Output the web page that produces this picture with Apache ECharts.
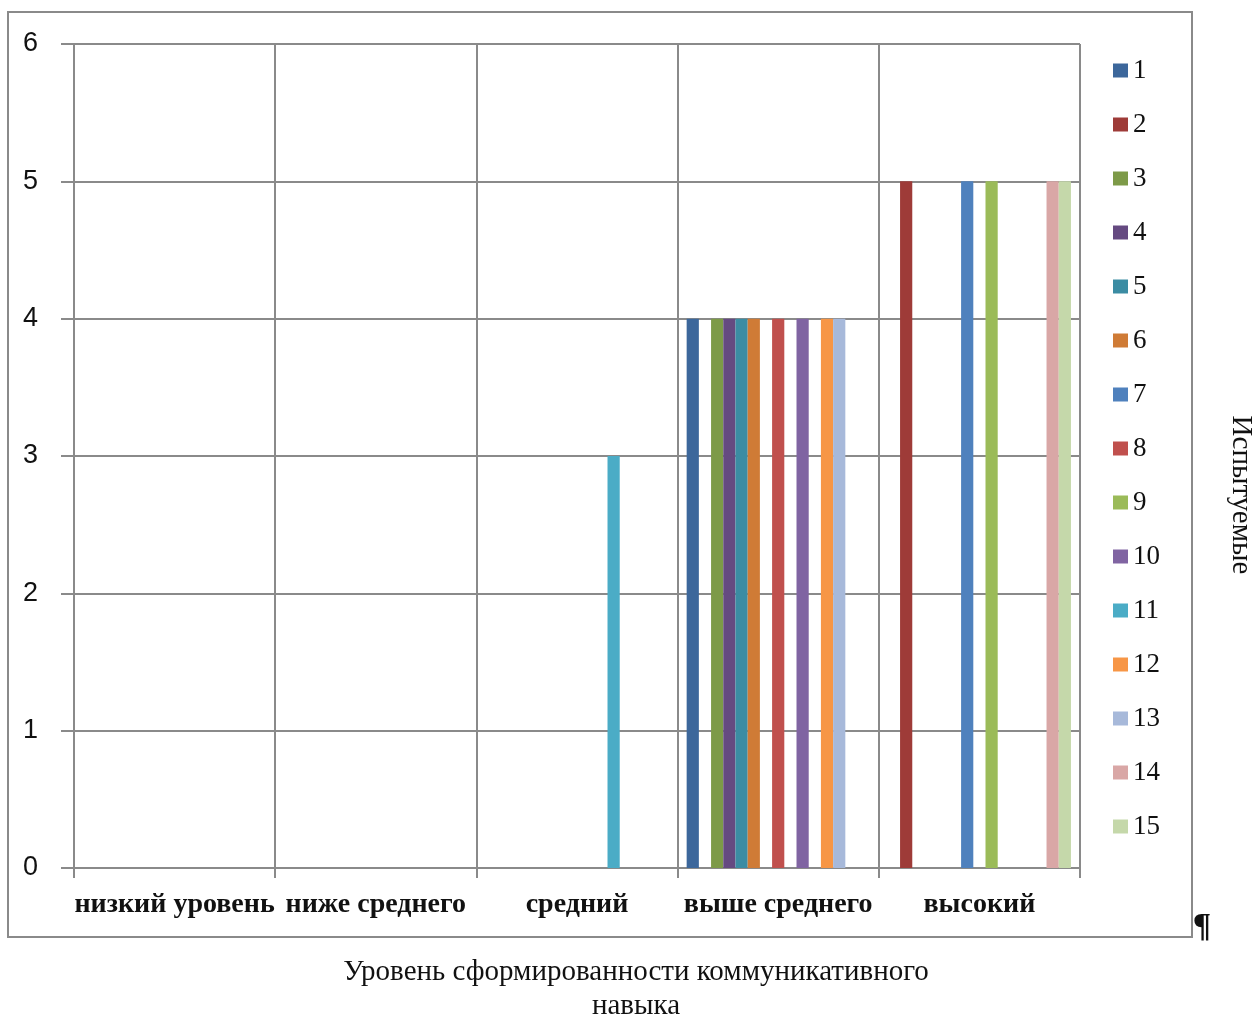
<!DOCTYPE html>
<html>
<head>
<meta charset="utf-8">
<script src="https://cdn.jsdelivr.net/npm/echarts@6/dist/echarts.min.js"></script>
<style>
html,body{margin:0;padding:0;background:#fff;}
#chart{width:1257px;height:1017px;}
</style>
</head>
<body>
<div id="chart"></div>
<script>
const categories = ['низкий уровень', 'ниже среднего', 'средний', 'выше среднего', 'высокий'];
const subjectNames = ['1','2','3','4','5','6','7','8','9','10','11','12','13','14','15'];
const s1  = [0, 0, 0, 4, 0];
const s2  = [0, 0, 0, 0, 5];
const s3  = [0, 0, 0, 4, 0];
const s4  = [0, 0, 0, 4, 0];
const s5  = [0, 0, 0, 4, 0];
const s6  = [0, 0, 0, 4, 0];
const s7  = [0, 0, 0, 0, 5];
const s8  = [0, 0, 0, 4, 0];
const s9  = [0, 0, 0, 0, 5];
const s10 = [0, 0, 0, 4, 0];
const s11 = [0, 0, 3, 0, 0];
const s12 = [0, 0, 0, 4, 0];
const s13 = [0, 0, 0, 4, 0];
const s14 = [0, 0, 0, 0, 5];
const s15 = [0, 0, 0, 0, 5];
const yTicks = { min: 0, max: 6, interval: 1 };
const xTitle = 'Уровень сформированности коммуникативного\nнавыка';
const legendTitle = 'Испытуемые';

const seriesValues = [s1,s2,s3,s4,s5,s6,s7,s8,s9,s10,s11,s12,s13,s14,s15];
const colors = ['#3C679B','#9E3B38','#7D9A48','#654A81','#3B8CA3','#CF7B36','#4F81BD','#C0504D',
                '#9BBB59','#8064A2','#4BACC6','#F79646','#A7B9DA','#D9A7A6','#C5D8AA'];

const chart = echarts.init(document.getElementById('chart'));
const lineColor = '#8a8a8a';
chart.setOption({
  backgroundColor: '#fff',
  animation: false,
  color: colors,
  grid: { left: 74, right: 177, top: 44, bottom: 149, containLabel: false },
  legend: {
    orient: 'vertical',
    left: 1108, top: 52,
    itemWidth: 15, itemHeight: 14,
    itemGap: 27,
    icon: 'rect',
    data: subjectNames,
    textStyle: { fontFamily: 'Liberation Serif', fontSize: 27, lineHeight: 27, color: '#111', padding: 0 }
  },
  xAxis: {
    type: 'category',
    data: categories,
    boundaryGap: true,
    axisLine: { show: true, lineStyle: { color: lineColor, width: 2 } },
    axisTick: { show: true, length: 10, lineStyle: { color: lineColor, width: 2 } },
    splitLine: { show: true, lineStyle: { color: lineColor, width: 2 } },
    axisLabel: { interval: 0, margin: 23, color: '#111', fontFamily: 'Liberation Serif', fontWeight: 'bold', fontSize: 28 }
  },
  yAxis: {
    type: 'value',
    min: yTicks.min, max: yTicks.max, interval: yTicks.interval,
    axisLine: { show: true, lineStyle: { color: lineColor, width: 2 } },
    axisTick: { show: true, length: 13, lineStyle: { color: lineColor, width: 2 } },
    splitLine: { show: true, lineStyle: { color: lineColor, width: 2 } },
    axisLabel: { margin: 36, color: '#111', fontFamily: 'Liberation Sans', fontSize: 27, padding: [7,0,0,0] }
  },
  series: seriesValues.map((vals, i) => ({
    name: subjectNames[i],
    type: 'bar',
    data: vals,
    barGap: '0%',
    barCategoryGap: '9%'
  })),
  graphic: [
    { type: 'rect', silent: true, z: -1,
      shape: { x: 8, y: 12, width: 1184, height: 925 },
      style: { fill: 'none', stroke: '#8a8a8a', lineWidth: 2 } },
    { type: 'text', x: 636, y: 955,
      style: { text: xTitle, fontFamily: 'Liberation Serif', fontSize: 29, lineHeight: 34,
               fill: '#111', textAlign: 'center', textVerticalAlign: 'top' } },
    { type: 'text', x: 1241, y: 495, rotation: -Math.PI / 2,
      style: { text: legendTitle, fontFamily: 'Liberation Serif', fontSize: 29,
               fill: '#111', textAlign: 'center', textVerticalAlign: 'middle' } },
    { type: 'text', x: 1202, y: 927,
      style: { text: '¶', fontFamily: 'Liberation Serif', fontSize: 34, fontWeight: 'bold',
               fill: '#111', textAlign: 'center', textVerticalAlign: 'middle' } }
  ]
});
</script>
</body>
</html>
